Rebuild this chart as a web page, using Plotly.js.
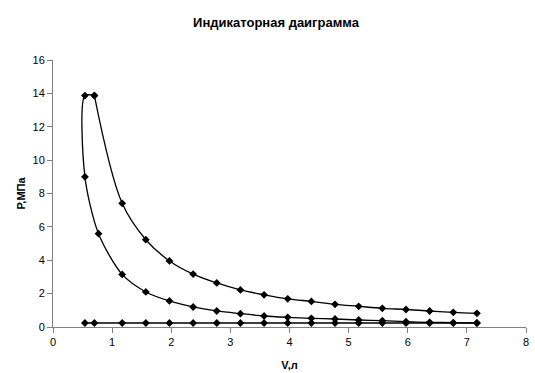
<!DOCTYPE html>
<html>
<head>
<meta charset="utf-8">
<script src="https://cdn.plot.ly/plotly-3.0.1.min.js"></script>
<style>html,body{margin:0;padding:0;background:#fff;}#chart{width:535px;height:373px;}</style>
</head>
<body>
<div id="chart"></div>
<script>
// Intake / exhaust line (nearly constant pressure)
var intakeV = [0.54, 0.70, 1.17, 1.57, 1.97, 2.37, 2.77, 3.17, 3.57, 3.97, 4.37, 4.77, 5.17, 5.57, 5.97, 6.37, 6.77, 7.17];
var intakeP = [0.24, 0.24, 0.24, 0.24, 0.24, 0.24, 0.24, 0.24, 0.24, 0.24, 0.24, 0.24, 0.24, 0.24, 0.24, 0.24, 0.24, 0.24];

// Compression line (from large volume to small volume)
var compV = [7.17, 6.77, 6.37, 5.97, 5.57, 5.17, 4.77, 4.37, 3.97, 3.57, 3.17, 2.77, 2.37, 1.97, 1.57, 1.17, 0.77, 0.54];
var compP = [0.24, 0.26, 0.28, 0.32, 0.38, 0.42, 0.48, 0.52, 0.58, 0.66, 0.80, 0.96, 1.20, 1.56, 2.10, 3.15, 5.59, 9.00];

// Combustion (peak pressure)
var combV = [0.54, 0.70];
var combP = [13.87, 13.87];

// Expansion line
var expV = [1.17, 1.57, 1.97, 2.37, 2.77, 3.17, 3.57, 3.97, 4.37, 4.77, 5.17, 5.57, 5.97, 6.37, 6.77, 7.17];
var expP = [7.41, 5.23, 3.96, 3.17, 2.64, 2.22, 1.93, 1.69, 1.53, 1.36, 1.24, 1.12, 1.05, 0.96, 0.88, 0.82];

var xTickVals = [0, 1, 2, 3, 4, 5, 6, 7, 8];
var yTickVals = [0, 2, 4, 6, 8, 10, 12, 14, 16];

var titleText = 'Индикаторная даиграмма';
var xTitle = 'V,л';
var yTitle = 'P,МПа';

// compression + combustion part of the cycle
var partAV = compV.concat(combV);
var partAP = compP.concat(combP);
// expansion part starting from the end of combustion
var partBV = [combV[combV.length - 1]].concat(expV);
var partBP = [combP[combP.length - 1]].concat(expP);

var marker = {symbol: 'diamond', size: 6, color: '#000000'};

var traces = [
  {x: intakeV, y: intakeP, type: 'scatter', mode: 'lines+markers',
   line: {color: '#000000', width: 1.3}, marker: marker, hoverinfo: 'x+y'},
  {x: partAV, y: partAP, type: 'scatter', mode: 'lines+markers',
   line: {color: '#000000', width: 1.3, shape: 'spline', smoothing: 0.8}, marker: marker, hoverinfo: 'x+y'},
  {x: partBV, y: partBP, type: 'scatter', mode: 'lines+markers',
   line: {color: '#000000', width: 1.3, shape: 'spline', smoothing: 1}, marker: marker, hoverinfo: 'x+y'}
];

var axisFont = {family: 'Liberation Sans, Arial, sans-serif', size: 11, color: '#000000'};

var layout = {
  width: 535, height: 373,
  paper_bgcolor: '#ffffff', plot_bgcolor: '#ffffff',
  showlegend: false,
  margin: {l: 53, r: 9, t: 60, b: 46},
  title: {text: '<b>' + titleText + '</b>', x: 0.516, xanchor: 'center', y: 0.94, yanchor: 'middle',
          font: {family: 'Liberation Sans, Arial, sans-serif', size: 13, color: '#000000'}},
  xaxis: {
    range: [0, 8], tickvals: xTickVals, ticktext: xTickVals.map(String),
    showgrid: false, zeroline: false, showline: true, linecolor: '#808080', linewidth: 1,
    ticks: 'outside', ticklen: 5, tickcolor: '#808080', tickfont: axisFont,
    title: {text: '<b>' + xTitle + '</b>', font: axisFont, standoff: 14}
  },
  yaxis: {
    range: [0, 16], tickvals: yTickVals, ticktext: yTickVals.map(String),
    showgrid: false, zeroline: false, showline: true, linecolor: '#808080', linewidth: 1,
    ticks: 'outside', ticklen: 5, tickcolor: '#808080', tickfont: axisFont,
    title: {text: '<b>' + yTitle + '</b>', font: axisFont, standoff: 4}
  }
};

Plotly.newPlot('chart', traces, layout, {staticPlot: true, displayModeBar: false});
</script>
</body>
</html>
